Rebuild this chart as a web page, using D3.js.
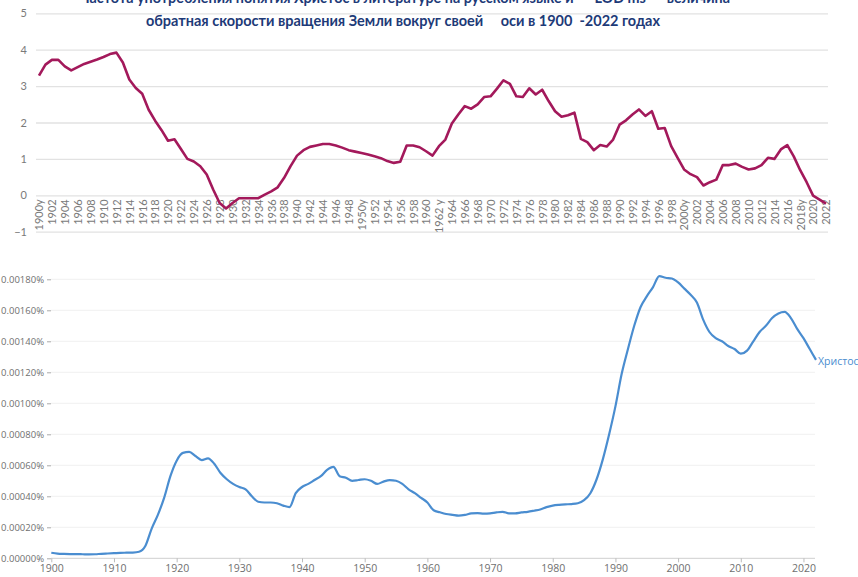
<!DOCTYPE html>
<html lang="ru">
<head>
<meta charset="UTF-8">
<title>Христос и LOD</title>
<script src="https://d3js.org/d3.v7.min.js"></script>
<style>
  body { margin: 0; background: #fff; }
  svg { display: block; }
  .title { font-family: Lato, "Open Sans", sans-serif; font-weight: bold; fill: #1d3a78; font-size: 16px; white-space: pre; }
  .top-axis text { font-family: Lato, "Open Sans", sans-serif; font-size: 11px; fill: #7a7a7a; }
  .bot-axis text { font-family: "Open Sans", sans-serif; font-size: 9.5px; fill: #6f6f6f; }
</style>
</head>
<body>
<svg id="chart" width="858" height="577"></svg>
<script>
// ---- top chart: LOD (inverse Earth rotation speed), one value per year 1900..2022
const lodYears = d3.range(1900, 2023);
const lodValues = [
  3.29, 3.59, 3.72, 3.72, 3.54, 3.43, 3.52, 3.61, 3.67, 3.73,
  3.80, 3.88, 3.92, 3.65, 3.18, 2.95, 2.79, 2.35, 2.05, 1.79,
  1.50, 1.54, 1.27, 1.00, 0.93, 0.80, 0.57, 0.16, -0.21, -0.36,
  -0.21, -0.08, -0.08, -0.08, -0.08, 0.02, 0.11, 0.22, 0.48, 0.80,
  1.09, 1.24, 1.33, 1.37, 1.41, 1.41, 1.37, 1.31, 1.24, 1.20,
  1.16, 1.12, 1.07, 1.02, 0.94, 0.89, 0.92, 1.37, 1.37, 1.32,
  1.21, 1.09, 1.35, 1.53, 1.97, 2.22, 2.45, 2.38, 2.50, 2.70,
  2.72, 2.93, 3.16, 3.06, 2.72, 2.70, 2.94, 2.77, 2.90, 2.59,
  2.31, 2.16, 2.20, 2.27, 1.55, 1.46, 1.24, 1.38, 1.34, 1.53,
  1.94, 2.06, 2.22, 2.36, 2.18, 2.31, 1.83, 1.85, 1.35, 1.03,
  0.71, 0.58, 0.50, 0.27, 0.36, 0.43, 0.83, 0.83, 0.87, 0.78,
  0.71, 0.74, 0.83, 1.03, 1.00, 1.26, 1.38, 1.07, 0.69, 0.36,
  -0.01, -0.12, -0.23
];
const lodTickYears = d3.range(1900, 2023, 2);
const lodTickNames = { 1900: "1900y", 1950: "1950y", 1962: "1962 y", 2000: "2000y", 2018: "2018y" };
const lodYTicks = [-1, 0, 1, 2, 3, 4, 5];

// ---- bottom chart: ngram frequency of "Христос", %
const ngramYears = d3.range(1900, 2023);
const ngramValues = [
  0.000036, 0.000030, 0.000028, 0.000027, 0.000027, 0.000026, 0.000025, 0.000026, 0.000029, 0.000031,
  0.000033, 0.000035, 0.000036, 0.000037, 0.000042, 0.000079, 0.000190, 0.000280, 0.000390, 0.000530,
  0.000630, 0.000680, 0.000686, 0.000660, 0.000634, 0.000645, 0.000610, 0.000550, 0.000510, 0.000480,
  0.000460, 0.000445, 0.000400, 0.000365, 0.000360, 0.000360, 0.000355, 0.000340, 0.000330, 0.000420,
  0.000460, 0.000480, 0.000505, 0.000530, 0.000570, 0.000590, 0.000530, 0.000520, 0.000500, 0.000505,
  0.000510, 0.000500, 0.000480, 0.000495, 0.000505, 0.000500, 0.000480, 0.000445, 0.000420, 0.000390,
  0.000360, 0.000310, 0.000297, 0.000286, 0.000280, 0.000275, 0.000280, 0.000290, 0.000292, 0.000288,
  0.000290, 0.000296, 0.000300, 0.000290, 0.000290, 0.000296, 0.000300, 0.000307, 0.000315, 0.000330,
  0.000340, 0.000345, 0.000348, 0.000350, 0.000355, 0.000375, 0.000420, 0.000510, 0.000640, 0.000800,
  0.000980, 0.001190, 0.001350, 0.001500, 0.001620, 0.001690, 0.001750, 0.001820, 0.001810, 0.001805,
  0.001780, 0.001740, 0.001700, 0.001650, 0.001540, 0.001460, 0.001420, 0.001400, 0.001370, 0.001350,
  0.001320, 0.001340, 0.001400, 0.001460, 0.001500, 0.001550, 0.001580, 0.001590, 0.001550, 0.001480,
  0.001420, 0.001350, 0.001280
];
const ngramXTicks = d3.range(1900, 2021, 10);
const ngramYTicks = d3.range(0, 10).map(i => i * 0.0002);
const ngramLabel = "Христос";

const svg = d3.select("#chart");

// ---------- titles (first line is cut off at the top, as in the source) ----------
svg.append("text")
  .attr("class", "title")
  .attr("x", 405).attr("y", 3)
  .attr("text-anchor", "middle")
  .attr("textLength", 650).attr("lengthAdjust", "spacingAndGlyphs")
  .text("Частота употребления понятия Христос в литературе на русском языке и      LOD ms      величина");

svg.append("text")
  .attr("class", "title")
  .attr("x", 403).attr("y", 26)
  .attr("text-anchor", "middle")
  .attr("textLength", 514).attr("lengthAdjust", "spacingAndGlyphs")
  .text("обратная скорости вращения Земли вокруг своей     оси в 1900  -2022 годах");

// ---------- top chart ----------
const xTop = d3.scalePoint().domain(lodYears).range([39, 826]);
const yTop = d3.scaleLinear().domain([-1, 5]).range([231.7, 13.3]);

const gridTop = svg.append("g")
  .attr("class", "top-axis")
  .attr("transform", "translate(36,0)")
  .call(d3.axisLeft(yTop).tickValues(lodYTicks).tickSize(-(828 - 36)).tickPadding(9).tickFormat(d3.format("d")));
gridTop.select(".domain").remove();
gridTop.selectAll("line").attr("stroke", "#e2e2e2").attr("stroke-width", 1.3);

const xAxisTop = svg.append("g")
  .attr("class", "top-axis")
  .attr("transform", `translate(0,${yTop(0)})`)
  .call(d3.axisBottom(xTop).tickValues(lodTickYears).tickSize(0)
    .tickFormat(d => lodTickNames[d] || String(d)));
xAxisTop.select(".domain").remove();
xAxisTop.selectAll("text")
  .attr("transform", "rotate(-90)")
  .attr("text-anchor", "end")
  .attr("x", -4)
  .attr("y", 0)
  .attr("dy", "0.35em");

svg.append("path")
  .datum(lodYears.map((yr, i) => [yr, lodValues[i]]))
  .attr("fill", "none")
  .attr("stroke", "#a3195b")
  .attr("stroke-width", 2.6)
  .attr("stroke-linejoin", "round")
  .attr("d", d3.line().x(d => xTop(d[0])).y(d => yTop(d[1])));

// ---------- bottom chart ----------
const xBot = d3.scaleLinear().domain([1900, 2022]).range([51.3, 816]);
const yBot = d3.scaleLinear().domain([0, 0.0018]).range([558.3, 279.3]);

const yAxisBot = svg.append("g")
  .attr("class", "bot-axis")
  .attr("transform", "translate(51,0)")
  .call(d3.axisLeft(yBot).tickValues(ngramYTicks).tickSize(4).tickPadding(3)
    .tickFormat(v => v.toFixed(5) + "%"));
yAxisBot.select(".domain").remove();
yAxisBot.selectAll("line").attr("stroke", "#aaa");

svg.append("g")
  .selectAll("line")
  .data(ngramYTicks.slice(1))
  .join("line")
  .attr("x1", 51).attr("x2", 815)
  .attr("y1", d => yBot(d)).attr("y2", d => yBot(d))
  .attr("stroke", "#f1f1f1");

const xAxisBot = svg.append("g")
  .attr("class", "bot-axis")
  .attr("transform", `translate(0,${yBot(0)})`)
  .call(d3.axisBottom(xBot).tickValues(ngramXTicks).tickSize(4).tickPadding(2).tickFormat(d3.format("d")));
xAxisBot.select(".domain").attr("stroke", "#cfcfcf").attr("d", "M51,0H815");
xAxisBot.selectAll("line").attr("stroke", "#bbb");
xAxisBot.selectAll("text").style("font-size", "10.5px").attr("fill", "#8a8a8a");

svg.append("path")
  .datum(ngramYears.map((yr, i) => [yr, ngramValues[i]]))
  .attr("fill", "none")
  .attr("stroke", "#4a8dd0")
  .attr("stroke-width", 2.2)
  .attr("d", d3.line().curve(d3.curveMonotoneX).x(d => xBot(d[0])).y(d => yBot(d[1])));

svg.append("text")
  .attr("x", xBot(2022) + 2)
  .attr("y", yBot(ngramValues[ngramValues.length - 1]) + 1)
  .attr("dy", "0.35em")
  .attr("font-family", "'Open Sans', sans-serif")
  .attr("font-size", 10.5)
  .attr("fill", "#4a8dd0")
  .text(ngramLabel);
</script>
</body>
</html>
